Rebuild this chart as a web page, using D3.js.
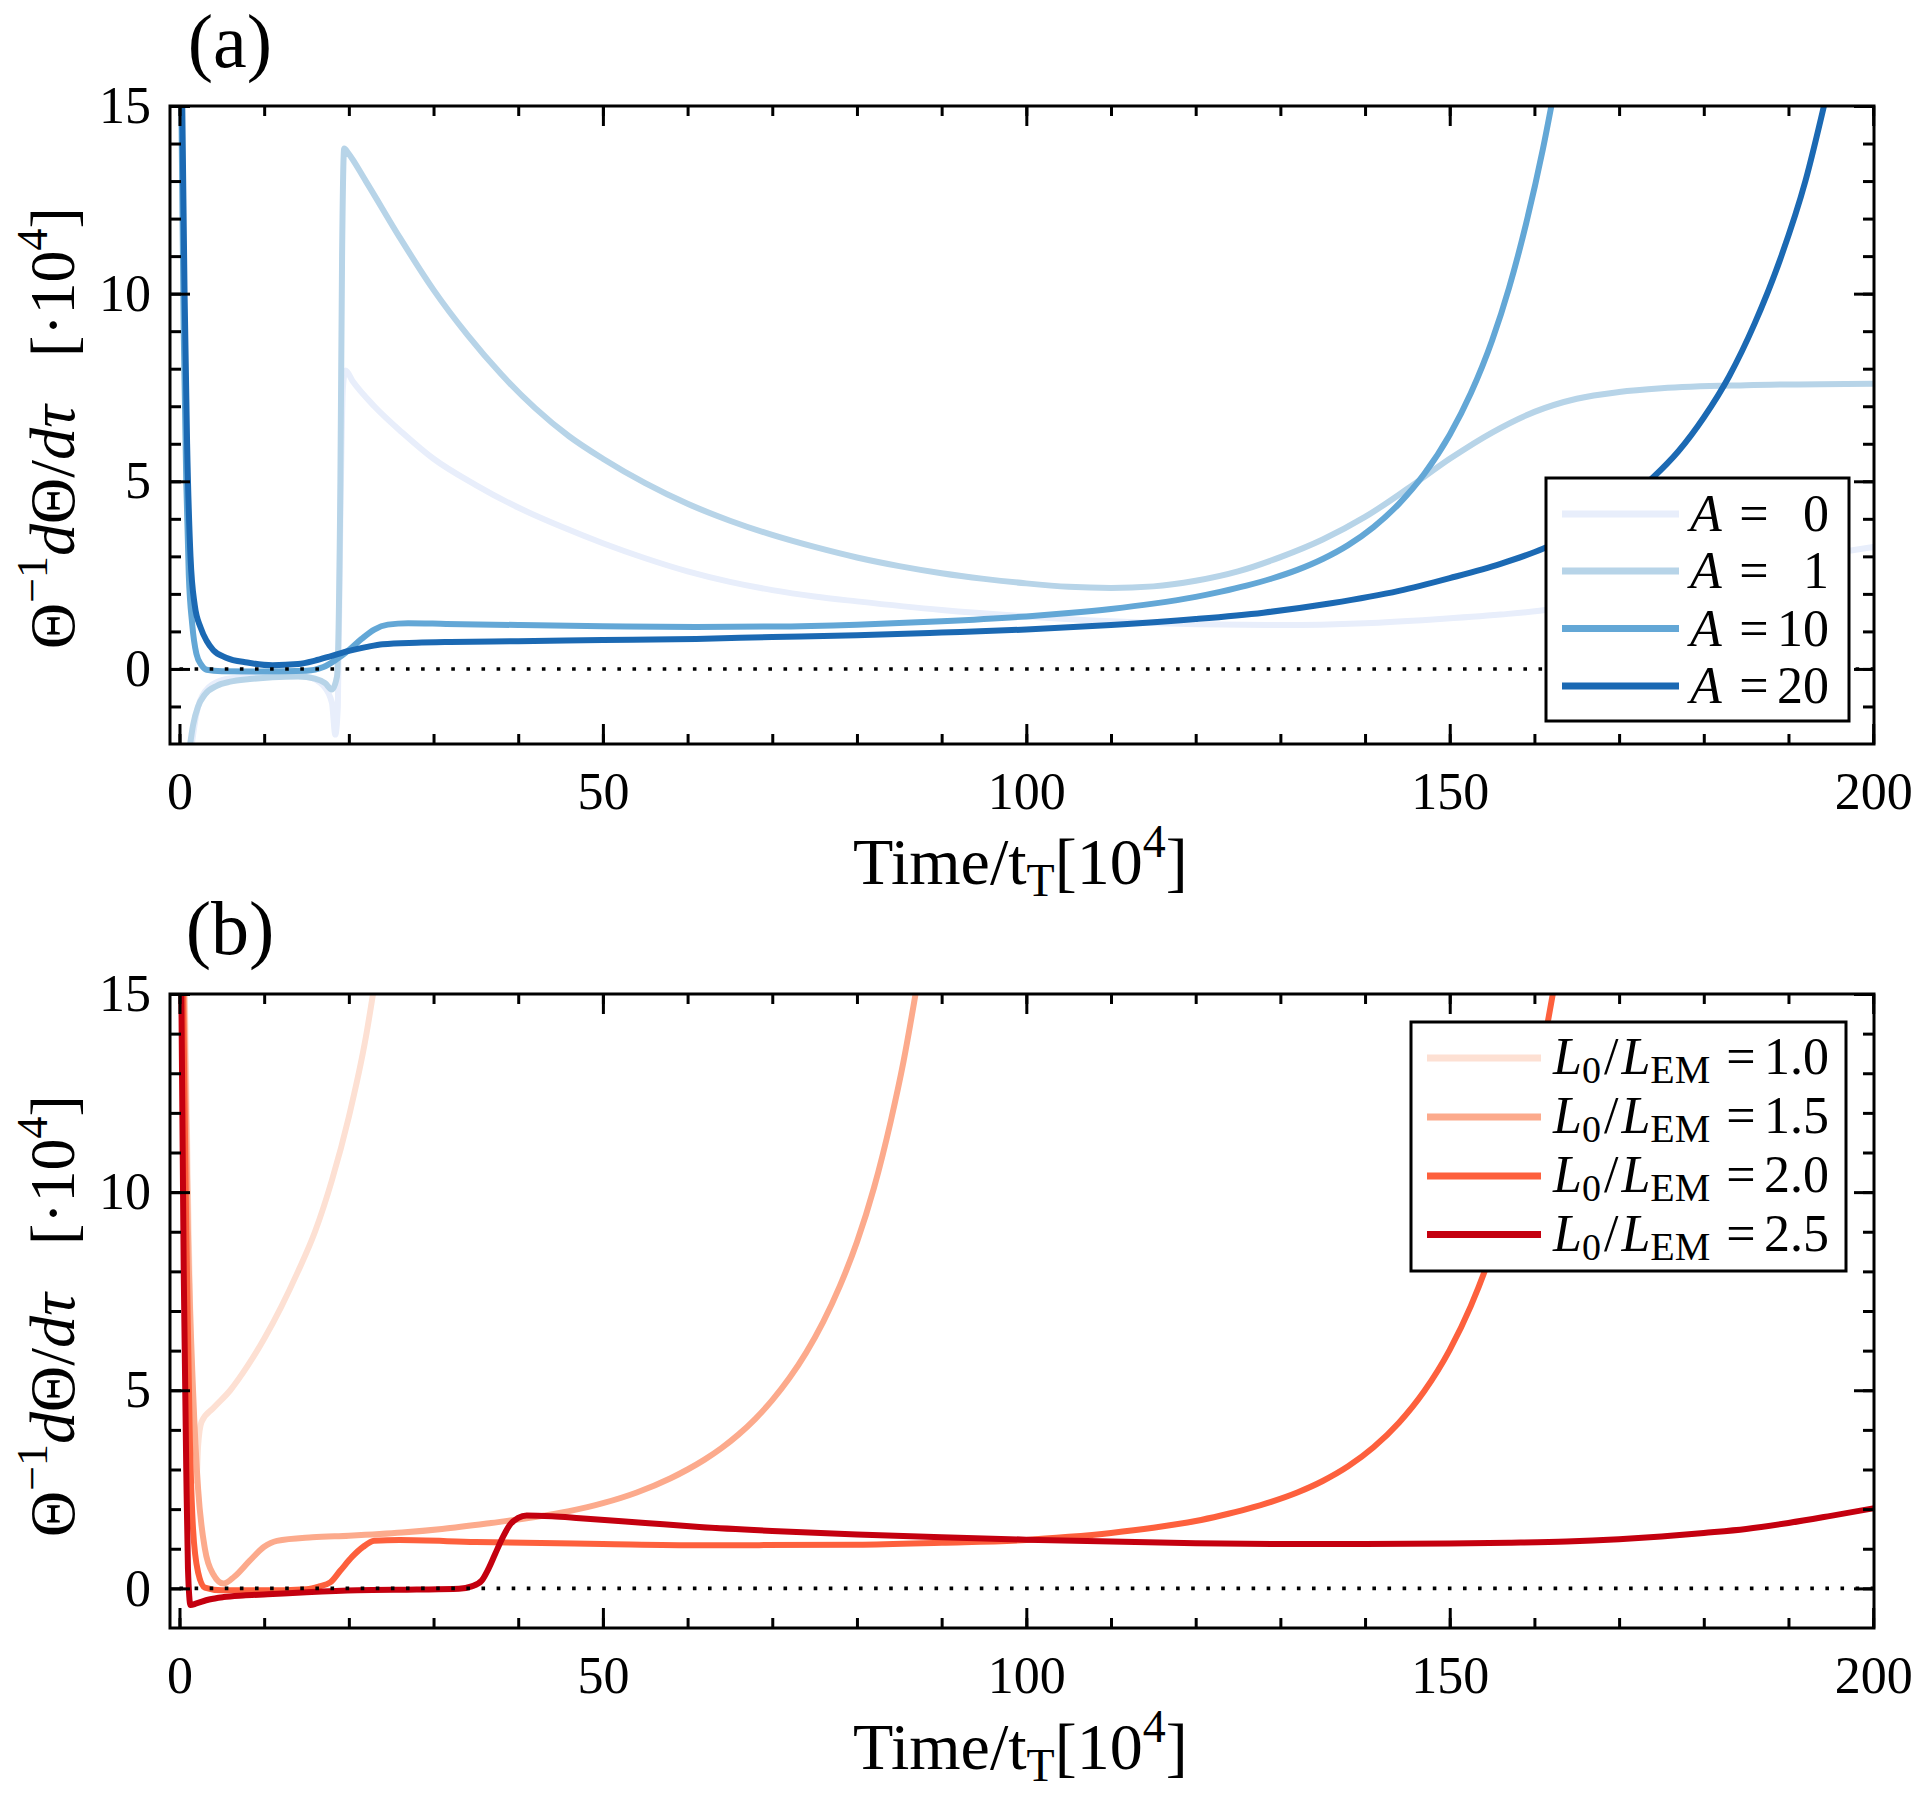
<!DOCTYPE html>
<html><head><meta charset="utf-8">
<script src="https://cdn.jsdelivr.net/npm/d3@7"></script>
<style>
body{margin:0;background:#fff}
svg{display:block}
text{font-family:"Liberation Serif","Times New Roman",serif;fill:#000;white-space:pre}
</style>
</head><body>
<svg id="c" width="1920" height="1793"></svg>
<script>
// ---------- data ----------
const xMajorTicks = [0, 50, 100, 150, 200];
const xMinorTicks = d3.range(0, 201, 10);
const yMajorTicksA = [0, 5, 10, 15];
const yMajorTicksB = [0, 5, 10, 15];

const labelsA = ["0", "1", "10", "20"];
const colorsA = ["#e8eefb", "#b7d4e8", "#63a7d6", "#1b69b3"];
const labelsB = ["1.0", "1.5", "2.0", "2.5"];
const colorsB = ["#fde0d3", "#fcaa8c", "#fd603d", "#c4000f"];

// panel (a): [time, value]
const seriesA0 = [[1.4,-2.1],[2,-1.2],[3,-0.6],[5,-0.3],[8,-0.2],[12,-0.15],[15,-0.2],[17,-0.45],[18,-0.9],[18.4,-1.75],[18.7,-1.0],[19.0,4],[19.3,7.5],[19.6,7.95],[20.5,7.65],[23,7.0],[26.3,6.3],[30,5.6],[35,4.9],[40,4.3],[45,3.8],[50,3.35],[55,2.95],[60,2.6],[65,2.32],[70,2.1],[75,1.93],[80,1.8],[90,1.57],[100,1.4],[110,1.27],[120,1.19],[130,1.17],[140,1.22],[148,1.32],[156,1.45],[160.6,1.55],[170,1.95],[180,2.45],[190,2.88],[200,3.25]];
const seriesA1 = [[1.2,-2.1],[1.6,-1.5],[2.2,-1.0],[3,-0.68],[4.4,-0.45],[6,-0.34],[8.3,-0.27],[11,-0.22],[14,-0.2],[16,-0.26],[17.2,-0.38],[18.0,-0.55],[18.6,-0.2],[19.0,5],[19.2,11],[19.45,13.87],[19.9,13.75],[22,13.0],[26,11.5],[30,10.1],[34,8.9],[38,7.85],[42,6.95],[46,6.2],[50,5.6],[55,4.95],[60,4.4],[65,3.95],[70,3.57],[75,3.25],[80,2.97],[85,2.74],[90,2.55],[95,2.4],[100,2.28],[105,2.19],[110,2.16],[115,2.2],[120,2.35],[125,2.6],[130,2.98],[135,3.45],[140,4.05],[145,4.8],[150,5.6],[155,6.3],[160,6.85],[165,7.2],[170,7.38],[175,7.48],[185,7.56],[200,7.6]];
const seriesA10 = [[0.2,15.5],[0.5,9],[0.8,5],[1.1,2.5],[1.5,1.2],[2.0,0.4],[2.6,0.1],[3.2,-0.02],[5,-0.06],[10,-0.07],[15,-0.05],[17,0.05],[18.5,0.25],[20,0.5],[21.5,0.8],[23,1.05],[24.6,1.18],[27,1.22],[31.5,1.2],[40,1.17],[50,1.14],[61,1.12],[70,1.13],[80,1.18],[90,1.27],[100,1.4],[105,1.49],[110,1.6],[115,1.74],[120,1.92],[123,2.06],[126,2.22],[129,2.41],[132,2.64],[135,2.93],[138,3.3],[141,3.78],[144,4.4],[147,5.2],[150,6.24],[152.5,7.35],[155,8.75],[157,10.15],[159,11.85],[161,13.85],[162.5,15.6]];
const seriesA20 = [[0.3,15.5],[0.6,10],[0.9,6],[1.3,3.0],[1.8,1.7],[2.5,1.1],[3.2,0.75],[4,0.5],[5.5,0.3],[8,0.17],[11,0.1],[14,0.13],[16,0.22],[18,0.35],[20,0.48],[22,0.58],[24,0.66],[28,0.7],[32,0.72],[40,0.74],[50,0.77],[61,0.8],[70,0.85],[80,0.9],[90,0.97],[100,1.05],[110,1.17],[120,1.33],[128,1.5],[136,1.75],[144,2.08],[150,2.42],[156,2.8],[161,3.2],[166,3.75],[170,4.35],[174,5.1],[177,5.8],[180,6.7],[183,7.8],[186,9.2],[189,10.9],[192,13.0],[194.5,15.3]];

// panel (b)
const seriesB10 = [[0.6,15.5],[1.0,10],[1.4,5.5],[1.8,3.2],[2.0,2.7],[2.2,3.6],[2.6,4.2],[4,4.55],[6,5.0],[8,5.6],[10,6.3],[12,7.1],[14,8.0],[16,9.0],[18,10.3],[20,11.9],[22,13.9],[23,15.2]];
const seriesB15 = [[0.5,15.5],[1,9],[1.6,5],[2.2,2.5],[3,1.0],[4,0.35],[5.2,0.12],[6.5,0.3],[8.3,0.7],[10,1.05],[11.5,1.2],[15.7,1.29],[20,1.33],[26.3,1.41],[31,1.5],[36.8,1.65],[42,1.8],[46,1.95],[50,2.15],[54,2.42],[58,2.78],[60,3.0],[62,3.25],[64,3.54],[66,3.88],[68,4.28],[70,4.75],[72,5.3],[74,5.95],[76,6.72],[78,7.64],[80,8.74],[82,10.1],[84,11.8],[85.5,13.3],[87,15.1]];
const seriesB20 = [[0.4,15.5],[0.8,9],[1.2,4],[1.6,1.5],[2.2,0.4],[3,0.02],[5,-0.05],[10,-0.05],[15,-0.02],[16.5,0.05],[17.8,0.15],[19,0.45],[20.4,0.8],[21.7,1.05],[23,1.2],[26,1.22],[35,1.17],[50,1.12],[61.4,1.09],[80,1.1],[90,1.15],[100,1.22],[105,1.3],[110,1.4],[115,1.53],[120,1.7],[123,1.84],[126,2.0],[129,2.19],[132,2.42],[135,2.71],[138,3.08],[141,3.56],[144,4.18],[147,4.98],[150,6.02],[152.5,7.13],[155,8.53],[157,9.93],[159,11.63],[161,13.63],[162.5,15.4]];
const seriesB25 = [[0.2,15.5],[0.5,8],[0.8,3],[1.0,0.5],[1.3,-0.42],[2,-0.38],[3.5,-0.28],[5.2,-0.22],[7.5,-0.18],[10.4,-0.15],[15,-0.1],[21,-0.05],[28,-0.03],[33,-0.01],[34.5,0.05],[35.7,0.2],[36.5,0.5],[37.3,0.88],[38.2,1.3],[39,1.6],[40,1.78],[41,1.84],[44,1.82],[47.3,1.77],[55,1.65],[61.4,1.55],[70,1.45],[80,1.36],[90,1.29],[100,1.23],[110,1.18],[120,1.14],[130,1.12],[140,1.12],[150,1.13],[157,1.15],[163.8,1.18],[170,1.24],[175,1.31],[180,1.4],[185,1.5],[190,1.65],[195,1.83],[200,2.02]];

const seriesA = [seriesA0, seriesA1, seriesA10, seriesA20];
const seriesB = [seriesB10, seriesB15, seriesB20, seriesB25];

// ---------- drawing ----------
const svg = d3.select("#c");
const X0 = 170, X1 = 1874;
const x = d3.scaleLinear().domain([-1.12, 200.1]).range([X0, X1]);

function panel(cfg) {
  const {top, bottom, ydom, yMajor, series, colors, id, tag, tagY, ylabY, xlabY, legend} = cfg;
  const y = d3.scaleLinear().domain(ydom).range([bottom, top]);
  const g = svg.append("g");
  const yMinor = d3.range(Math.ceil(ydom[0]) + 1, ydom[1], 1);

  g.append("clipPath").attr("id", "clip" + id)
    .append("rect").attr("x", X0).attr("y", top).attr("width", X1 - X0).attr("height", bottom - top);

  const line = d3.line().x(d => x(d[0])).y(d => y(d[1])).curve(d3.curveMonotoneX);
  const lg = g.append("g").attr("clip-path", `url(#clip${id})`);
  series.forEach((s, i) => {
    lg.append("path").datum(s).attr("d", line)
      .attr("fill", "none").attr("stroke", colors[i]).attr("stroke-width", 6)
      .attr("stroke-linejoin", "round").attr("stroke-linecap", "round");
  });
  // dotted zero line
  lg.append("line").attr("x1", x(0)).attr("x2", x(200)).attr("y1", y(0)).attr("y2", y(0))
    .attr("stroke", "#000").attr("stroke-width", 3.6).attr("stroke-dasharray", "3.6 11.5");

  function styleAxis(a) {
    a.select(".domain").remove();
    a.selectAll(".tick line").attr("stroke", "#000").attr("stroke-width", 3);
    a.selectAll("text").attr("font-family", null).attr("font-size", 52).attr("fill", "#000");
    a.attr("font-family", null).attr("font-size", null);
  }
  // bottom
  g.append("g").attr("transform", `translate(0,${bottom})`)
    .call(d3.axisBottom(x).tickValues(xMinorTicks).tickSizeInner(-10).tickSizeOuter(0).tickFormat(""))
    .call(styleAxis);
  g.append("g").attr("transform", `translate(0,${bottom})`)
    .call(d3.axisBottom(x).tickValues(xMajorTicks).tickSizeInner(-20).tickSizeOuter(0).tickPadding(28).tickFormat(d3.format("d")))
    .call(styleAxis);
  // top
  g.append("g").attr("transform", `translate(0,${top})`)
    .call(d3.axisTop(x).tickValues(xMinorTicks).tickSizeInner(-10).tickSizeOuter(0).tickFormat(""))
    .call(styleAxis);
  g.append("g").attr("transform", `translate(0,${top})`)
    .call(d3.axisTop(x).tickValues(xMajorTicks).tickSizeInner(-20).tickSizeOuter(0).tickFormat(""))
    .call(styleAxis);
  // left
  g.append("g").attr("transform", `translate(${X0},0)`)
    .call(d3.axisLeft(y).tickValues(yMinor).tickSizeInner(-11).tickSizeOuter(0).tickFormat(""))
    .call(styleAxis);
  g.append("g").attr("transform", `translate(${X0},0)`)
    .call(d3.axisLeft(y).tickValues(yMajor).tickSizeInner(-20).tickSizeOuter(0).tickPadding(19).tickFormat(d3.format("d")))
    .call(styleAxis);
  // right
  g.append("g").attr("transform", `translate(${X1},0)`)
    .call(d3.axisRight(y).tickValues(yMinor).tickSizeInner(-11).tickSizeOuter(0).tickFormat(""))
    .call(styleAxis);
  g.append("g").attr("transform", `translate(${X1},0)`)
    .call(d3.axisRight(y).tickValues(yMajor).tickSizeInner(-20).tickSizeOuter(0).tickFormat(""))
    .call(styleAxis);

  // frame
  g.append("rect").attr("x", X0).attr("y", top).attr("width", X1 - X0).attr("height", bottom - top)
    .attr("fill", "none").attr("stroke", "#000").attr("stroke-width", 3);

  // panel tag
  g.append("text").attr("x", 230).attr("y", tagY).attr("text-anchor", "middle")
    .attr("font-size", 76).text(tag);

  // y label
  const yl = g.append("text").attr("transform", `translate(74,${ylabY}) rotate(-90)`)
    .attr("text-anchor", "middle").attr("font-size", 64);
  yl.append("tspan").text("Θ");
  yl.append("tspan").attr("font-size", 44).attr("dy", -27).text("−1");
  yl.append("tspan").attr("dy", 27).attr("font-style", "italic").text("d");
  yl.append("tspan").text("Θ/");
  yl.append("tspan").attr("font-style", "italic").text("dτ");
  yl.append("tspan").text("   [·10");
  yl.append("tspan").attr("font-size", 44).attr("dy", -27).text("4");
  yl.append("tspan").attr("dy", 27).text("]");

  // x label
  const xl = g.append("text").attr("x", (x(0) + x(200)) / 2 - 6).attr("y", xlabY)
    .attr("text-anchor", "middle").attr("font-size", 66);
  xl.append("tspan").text("Time/t");
  xl.append("tspan").attr("font-size", 46).attr("dy", 12).text("T");
  xl.append("tspan").attr("dy", -12).text("[10");
  xl.append("tspan").attr("font-size", 46).attr("dy", -27).text("4");
  xl.append("tspan").attr("dy", 27).text("]");

  // legend
  const L = legend;
  g.append("rect").attr("x", L.x0).attr("y", L.y0).attr("width", L.x1 - L.x0).attr("height", L.y1 - L.y0)
    .attr("fill", "#fff").attr("stroke", "#000").attr("stroke-width", 3);
  L.rows.forEach((ry, i) => {
    g.append("line").attr("x1", L.lx0).attr("x2", L.lx1).attr("y1", ry).attr("y2", ry)
      .attr("stroke", colors[i]).attr("stroke-width", 7);
    L.draw(g, ry, i);
  });
}

panel({
  id: "a", top: 106, bottom: 744, ydom: [-2, 15], yMajor: yMajorTicksA,
  series: seriesA, colors: colorsA, tag: "(a)", tagY: 67, ylabY: 428, xlabY: 884,
  legend: {
    x0: 1546, x1: 1849, y0: 478, y1: 721, lx0: 1562, lx1: 1679,
    rows: [514, 571, 628.5, 686],
    draw: (g, ry, i) => {
      g.append("text").attr("x", 1690).attr("y", ry + 17).attr("font-size", 52)
        .attr("font-style", "italic").text("A");
      g.append("text").attr("x", 1754).attr("y", ry + 17).attr("font-size", 52)
        .attr("text-anchor", "middle").text("=");
      g.append("text").attr("x", 1829).attr("y", ry + 17).attr("font-size", 52)
        .attr("text-anchor", "end").text(labelsA[i]);
    }
  }
});

panel({
  id: "b", top: 994, bottom: 1628, ydom: [-1, 15], yMajor: yMajorTicksB,
  series: seriesB, colors: colorsB, tag: "(b)", tagY: 954, ylabY: 1316, xlabY: 1769,
  legend: {
    x0: 1411, x1: 1846, y0: 1022, y1: 1271, lx0: 1427, lx1: 1541,
    rows: [1058, 1117, 1176, 1234.5],
    draw: (g, ry, i) => {
      const t = g.append("text").attr("x", 1553).attr("y", ry + 16).attr("font-size", 52);
      t.append("tspan").attr("font-style", "italic").text("L");
      t.append("tspan").attr("font-size", 38).attr("dy", 9).text("0");
      t.append("tspan").attr("dy", -9).attr("dx", 3).text("/");
      t.append("tspan").attr("dx", 3).attr("font-style", "italic").text("L");
      t.append("tspan").attr("font-size", 40).attr("dy", 9).text("EM");
      g.append("text").attr("x", 1741).attr("y", ry + 16).attr("font-size", 52)
        .attr("text-anchor", "middle").text("=");
      g.append("text").attr("x", 1829).attr("y", ry + 16).attr("font-size", 52)
        .attr("text-anchor", "end").text(labelsB[i]);
    }
  }
});
</script>
</body></html>
